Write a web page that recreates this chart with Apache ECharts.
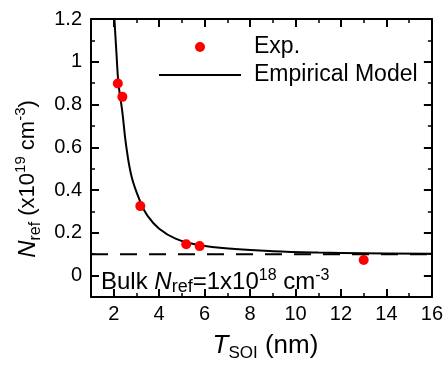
<!DOCTYPE html>
<html>
<head>
<meta charset="utf-8">
<script src="https://cdn.jsdelivr.net/npm/echarts@6/dist/echarts.min.js"></script>
<style>
html,body{margin:0;padding:0;background:#fff;}
#chart{width:446px;height:367px;}
</style>
</head>
<body>
<div id="chart"></div>
<script>
// Experimental points (T_SOI in nm, N_ref in 1e19 cm^-3)
const expT = [2.18, 2.38, 3.17, 5.19, 5.78, 13.0];
const expN = [0.898, 0.836, 0.325, 0.147, 0.138, 0.073];
// Empirical model curve
const modelT = [2.03, 2.12, 2.21, 2.38, 2.54, 2.79, 3.19, 3.49, 4.0, 4.72, 5.74, 7.34, 9, 11, 13, 16];
const modelN = [1.2, 1.04, 0.898, 0.765, 0.613, 0.461, 0.34, 0.279, 0.219, 0.173, 0.143, 0.124, 0.114, 0.108, 0.105, 0.102];
// Bulk reference level
const bulkT = [1, 16];
const bulkN = [0.1, 0.1];
// Tick labels
const xTicks = [2, 4, 6, 8, 10, 12, 14, 16];
const yTicks = [0, 0.2, 0.4, 0.6, 0.8, 1, 1.2];

const FONT = 'Liberation Sans, Arial, sans-serif';
const black = '#000';

const chart = echarts.init(document.getElementById('chart'), null, {renderer: 'canvas'});

function majorX(pos, labels) {
  return {
    type: 'value', position: pos, min: 1, max: 16,
    axisLine: {show: true, onZero: false, lineStyle: {color: black, width: 2}},
    axisTick: {show: true, inside: true, length: 8, customValues: xTicks, lineStyle: {color: black, width: 2}},
    axisLabel: labels ? {show: true, customValues: xTicks, fontSize: 20, color: black, fontFamily: FONT, margin: 7} : {show: false},
    splitLine: {show: false}
  };
}
function minorX(pos) {
  return {
    type: 'value', position: pos, min: 1, max: 16, interval: 1,
    axisLine: {show: false, onZero: false},
    axisTick: {show: true, inside: true, length: 4, lineStyle: {color: black, width: 1.5}},
    axisLabel: {show: false}, splitLine: {show: false}
  };
}
function majorY(pos, labels) {
  return {
    type: 'value', position: pos, min: -0.1, max: 1.2,
    axisLine: {show: true, onZero: false, lineStyle: {color: black, width: 2}},
    axisTick: {show: true, inside: true, length: 8, customValues: yTicks, lineStyle: {color: black, width: 2}},
    axisLabel: labels ? {show: true, customValues: yTicks, fontSize: 20, color: black, fontFamily: FONT, margin: 9,
      formatter: v => String(+v.toFixed(1))} : {show: false},
    splitLine: {show: false}
  };
}
function minorY(pos) {
  return {
    type: 'value', position: pos, min: -0.1, max: 1.2, interval: 0.1,
    axisLine: {show: false, onZero: false},
    axisTick: {show: true, inside: true, length: 4, lineStyle: {color: black, width: 1.5}},
    axisLabel: {show: false}, splitLine: {show: false}
  };
}

const xMain = majorX('bottom', true);
xMain.name = '{i|T}{sub|SOI}{m| (nm)}';
xMain.nameLocation = 'middle';
xMain.nameGap = 33;
xMain.nameTextStyle = {
  fontFamily: FONT, color: black, fontSize: 26, padding: [0, 0, 0, 8],
  rich: {
    i: {fontFamily: FONT, fontSize: 26, fontStyle: 'italic', color: black, lineHeight: 32},
    m: {fontFamily: FONT, fontSize: 26, color: black, lineHeight: 32},
    sub: {fontFamily: FONT, fontSize: 17, color: black, lineHeight: 17, verticalAlign: 'bottom'}
  }
};

const yMain = majorY('left', true);
yMain.name = '{i|N}{sub|ref}{m| (x10}{sup|19}{m| cm}{sup|-3}{m|)}{gap|}';
yMain.nameLocation = 'middle';
yMain.nameGap = 46;
yMain.nameTextStyle = {
  fontFamily: FONT, color: black, fontSize: 22,
  rich: {
    i: {fontFamily: FONT, fontSize: 24, fontStyle: 'italic', color: black, lineHeight: 30},
    m: {fontFamily: FONT, fontSize: 22, color: black, lineHeight: 30},
    sub: {fontFamily: FONT, fontSize: 16, color: black, lineHeight: 16, verticalAlign: 'bottom'},
    sup: {fontFamily: FONT, fontSize: 15, color: black, lineHeight: 15, verticalAlign: 'top'},
    gap: {width: 42, lineHeight: 30}
  }
};

const option = {
  animation: false,
  backgroundColor: '#fff',
  grid: {left: 91, right: 11, top: 19, bottom: 62, containLabel: false},
  xAxis: [xMain, minorX('bottom'), majorX('top', false), minorX('top')],
  yAxis: [yMain, minorY('left'), majorY('right', false), minorY('right')],
  legend: {
    data: [
      {name: 'Exp.'},
      {name: 'Empirical Model', itemStyle: {opacity: 0}}
    ],
    orient: 'vertical', left: 153, top: 28,
    itemWidth: 82, itemHeight: 10, itemGap: 0,
    textStyle: {fontFamily: FONT, fontSize: 23, color: black, lineHeight: 28, padding: [0, 0, 0, 8]}
  },
  graphic: [{
    type: 'text', left: 101, top: 268, z: 100,
    style: {
      text: '{m|Bulk }{i|N}{sub|ref}{m|=1x10}{sup|18}{m| cm}{sup|-3}',
      rich: {
        m: {fontFamily: FONT, fontSize: 24, fill: black, lineHeight: 28},
        i: {fontFamily: FONT, fontSize: 24, fontStyle: 'italic', fill: black, lineHeight: 28},
        sub: {fontFamily: FONT, fontSize: 18, fill: black, lineHeight: 18, verticalAlign: 'bottom'},
        sup: {fontFamily: FONT, fontSize: 16, fill: black, lineHeight: 16, verticalAlign: 'top'}
      }
    }
  }],
  series: [
    {
      name: 'Bulk', type: 'line', xAxisIndex: 0, yAxisIndex: 0,
      data: bulkT.map((t, i) => [t, bulkN[i]]),
      symbol: 'none', silent: true,
      lineStyle: {color: black, width: 2, type: [17, 12]}, z: 1
    },
    {
      name: 'Empirical Model', type: 'line', xAxisIndex: 0, yAxisIndex: 0,
      data: modelT.map((t, i) => [t, modelN[i]]),
      symbol: 'none', showSymbol: false, smooth: 0.4,
      lineStyle: {color: black, width: 2},
      itemStyle: {color: black}, z: 2
    },
    {
      name: 'Exp.', type: 'scatter', xAxisIndex: 0, yAxisIndex: 0,
      data: expT.map((t, i) => [t, expN[i]]),
      symbol: 'circle', symbolSize: 10,
      itemStyle: {color: '#ff0000', opacity: 1}, z: 3
    }
  ]
};
chart.setOption(option);
</script>
</body>
</html>
